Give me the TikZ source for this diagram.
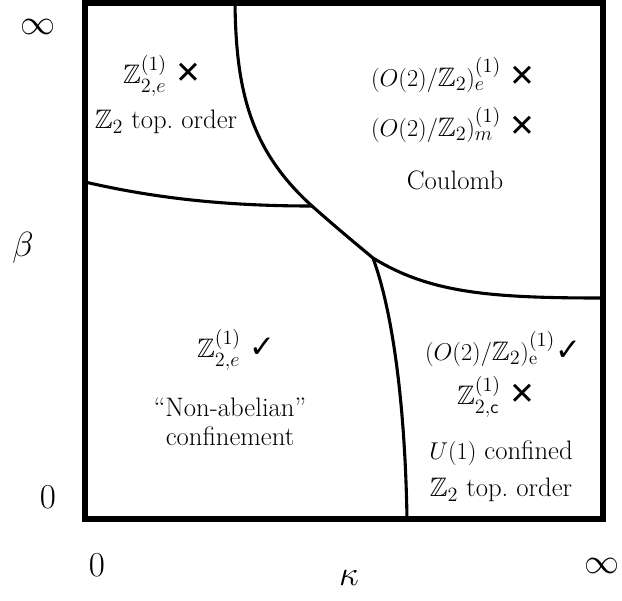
\documentclass[tikz,border=0pt]{standalone}
\usepackage{amsmath,amssymb}
\usepackage{fontspec}
\newfontfamily\markfont{DejaVu Sans}
\usetikzlibrary{positioning}
\newcommand{\yes}{{\markfont\fontsize{22}{22}\selectfont ✓}}
\newcommand{\no}{{\markfont\fontsize{22}{22}\selectfont ✕}}

\begin{document}
\begin{tikzpicture}[x=0.025cm, y=-0.025cm,
  phase/.style={font=\fontsize{19}{23}\selectfont, inner sep=1pt},
  axislabel/.style={font=\fontsize{25}{30}\selectfont, inner sep=0pt},
  frame/.style={line width=3.6pt, line join=miter},
  wall/.style={line width=2.2pt, line cap=round}]
\useasboundingbox (0,0) rectangle (622,600);
% frame of the diagram
\draw[frame] (85,3) rectangle (603,519);
% ends and triple points of the phase boundaries
\coordinate (top) at (235,3);
\coordinate (left) at (85,182);
\coordinate (right) at (603,298);
\coordinate (bottom) at (407,519);
\coordinate (tri1) at (312,206);
\coordinate (tri2) at (373,258);
\draw[wall] (top) .. controls (236,90) and (250,150) .. (tri1)
  .. controls (338,229) and (355,243) .. (tri2)
  .. controls (430,293) and (490,298) .. (right);
\draw[wall] (left) .. controls (150,197) and (220,206) .. (tri1);
\draw[wall] (tri2) .. controls (392,310) and (405,400) .. (bottom);
% upper left phase
\node[phase] (ztop) at (162,76) {$\mathbb{Z}_{2,e}^{(1)}$~\no};
\node[phase] (ztoptxt) at (166,122) {$\mathbb{Z}_2$ top.\ order};
% Coulomb phase
\node[phase] (coule) at (453,75) {$(O(2)/\mathbb{Z}_2)_e^{(1)}$~\no};
\node[phase] (coulm) at (453,125) {$(O(2)/\mathbb{Z}_2)_m^{(1)}$~\no};
\node[phase] (coul) at (455,180) {Coulomb};
% lower left phase
\node[phase] (nab) at (236,350) {$\mathbb{Z}_{2,e}^{(1)}$~\yes};
\node[phase] (nabtxt) at (230,407) {``Non-abelian''};
\node[phase] (nabtxt2) at (230,436) {confinement};
% lower right phase
\node[phase] (hige) at (503,349) {$(O(2)/\mathbb{Z}_2)_{\mathrm{e}}^{(1)}$\yes};
\node[phase] (higc) at (496,397) {$\mathbb{Z}_{2,\mathsf{c}}^{(1)}$~\no};
\node[phase] (higtxt) at (501,453) {$U(1)$ confined};
\node[phase] (higtxt2) at (501,490) {$\mathbb{Z}_2$ top.\ order};
% axes
\node[axislabel, font=\fontsize{27}{30}\selectfont] (binf) at (38,27) {$\infty$};
\node[axislabel] (beta) at (23,248) {$\beta$};
\node[axislabel] (bzero) at (48,497) {$0$};
\node[axislabel] (kzero) at (97,565) {$0$};
\node[axislabel] (kappa) at (349,578) {$\kappa$};
\node[axislabel, font=\fontsize{27}{30}\selectfont] (kinf) at (602,566) {$\infty$};
\end{tikzpicture}
\end{document}
